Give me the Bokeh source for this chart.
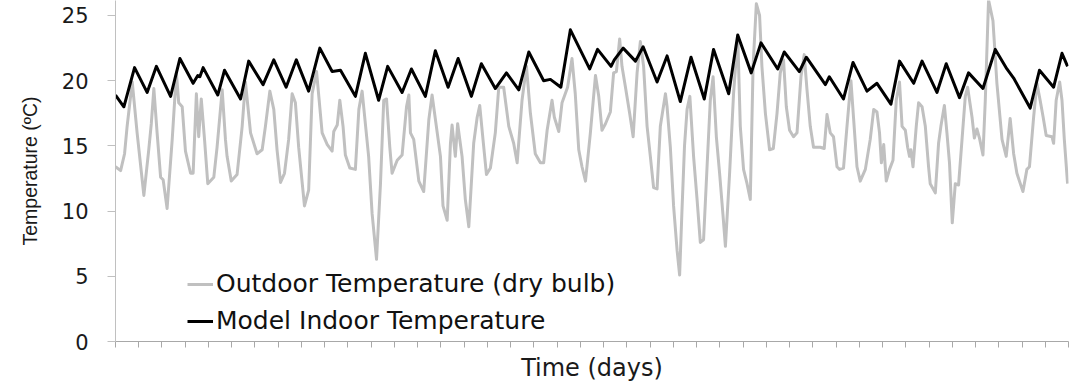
from bokeh.plotting import figure
from bokeh.models import Range1d, FixedTicker
from bokeh.embed import file_html
from bokeh.resources import INLINE

# ---- data ----
outdoor_day = [0.00, 0.22, 0.39, 0.50, 0.72, 0.93, 1.22, 1.43, 1.54, 1.65, 1.79, 1.94, 2.05, 2.22, 2.44, 2.62,
               2.72, 2.87, 3.01, 3.23, 3.34, 3.48, 3.58, 3.69, 3.83, 3.97, 4.23, 4.37, 4.59, 4.73, 4.80, 4.98,
               5.23, 5.45, 5.59, 5.81, 6.09, 6.31, 6.45, 6.64, 6.81, 6.95, 7.10, 7.27, 7.45, 7.60, 7.74, 7.88,
               8.13, 8.31, 8.46, 8.65, 8.89, 9.11, 9.32, 9.39, 9.54, 9.65, 9.79, 9.89, 10.08, 10.32, 10.47,
               10.61, 10.89, 11.04, 11.23, 11.40, 11.54, 11.66, 11.80, 11.90, 12.12, 12.33, 12.52, 12.62,
               12.69, 12.83, 13.05, 13.26, 13.48, 13.62, 13.98, 14.09, 14.27, 14.41, 14.48, 14.62, 14.72,
               14.91, 15.05, 15.20, 15.41, 15.56, 15.67, 15.81, 15.96, 16.13, 16.34, 16.49, 16.70, 16.92,
               17.13, 17.28, 17.49, 17.68, 17.85, 18.06, 18.28, 18.42, 18.57, 18.78, 18.88, 19.07, 19.21,
               19.45, 19.64, 19.78, 19.93, 20.07, 20.22, 20.43, 20.65, 20.79, 20.93, 21.08, 21.29, 21.43,
               21.55, 21.69, 21.79, 21.94, 22.12, 22.27, 22.44, 22.58, 22.72, 22.87, 23.01, 23.15, 23.30,
               23.44, 23.66, 23.73, 23.87, 24.01, 24.16, 24.27, 24.37, 24.48, 24.59, 24.71, 24.87, 25.02,
               25.16, 25.30, 25.45, 25.59, 25.71, 25.85, 25.99, 26.14, 26.24, 26.42, 26.59, 26.77, 26.88,
               27.02, 27.17, 27.31, 27.43, 27.57, 27.71, 27.81, 27.96, 28.14, 28.30, 28.46, 28.60, 28.74,
               28.86, 29.00, 29.17, 29.32, 29.49, 29.63, 29.75, 29.89, 30.03, 30.32, 30.49, 30.61, 30.75,
               30.89, 31.04, 31.15, 31.32, 31.47, 31.64, 31.75, 31.90, 32.04, 32.26, 32.47, 32.62, 32.76,
               32.87, 32.95, 33.05, 33.16, 33.30, 33.45, 33.59, 33.73, 33.84, 33.98, 34.08, 34.16, 34.22,
               34.31, 34.45, 34.55, 34.70, 34.84, 34.98, 35.05, 35.27, 35.41, 35.51, 35.66, 35.77, 35.88,
               36.00, 36.13, 36.27, 36.42, 36.56, 36.66, 36.85, 36.95, 37.06, 37.17, 37.32, 37.42, 37.56,
               37.75, 37.92, 38.14, 38.32, 38.49, 38.64, 38.78, 38.89, 39.04, 39.21, 39.32, 39.50, 39.64,
               39.78, 39.91, 40.04, 40.29, 40.36, 40.47, 40.62, 40.72, 40.82, 40.96]
outdoor_temp = [13.4, 13.1, 14.4, 16.5, 19.9, 16.0, 11.2, 14.7, 16.7, 19.4, 16.0, 12.6, 12.4, 10.2, 15.5, 20.6,
                18.3, 18.0, 14.6, 12.9, 12.9, 19.0, 15.7, 18.6, 15.5, 12.1, 12.6, 14.9, 19.3, 15.5, 14.2, 12.3,
                12.8, 16.5, 19.9, 16.0, 14.4, 14.7, 16.5, 19.2, 17.8, 14.7, 12.2, 12.9, 15.5, 19.0, 18.3, 14.9,
                10.4, 11.6, 19.0, 20.7, 16.0, 15.1, 14.6, 16.1, 16.6, 18.5, 16.5, 14.3, 13.3, 13.2, 17.8,
                19.2, 14.2, 9.8, 6.3, 12.1, 18.5, 18.6, 14.9, 12.9, 13.9, 14.3, 18.0, 18.9,
                16.0, 15.5, 12.3, 11.5, 17.0, 18.9, 14.2, 10.4, 9.3, 15.2, 16.6, 14.2, 16.7,
                14.2, 10.9, 8.8, 15.2, 17.2, 18.1, 15.5, 12.8, 13.3, 16.0, 19.5, 19.5, 16.5,
                15.2, 13.7, 18.5, 21.1, 17.5, 14.4, 13.7, 13.7, 16.2, 18.5, 17.2, 16.1, 18.3,
                19.5, 21.7, 19.0, 14.7, 13.4, 12.3, 16.0, 20.4, 18.8, 16.2, 16.7, 17.6, 20.6,
                20.7, 23.2, 21.1, 19.5, 17.5, 15.7, 20.6, 23.0, 21.1, 16.5, 14.2, 11.8, 11.7,
                16.5, 19.0, 18.0, 14.9, 10.4, 7.0, 5.1, 10.0, 15.0, 17.8, 18.8, 14.2, 10.9,
                7.6, 7.8, 13.4, 18.5, 20.3, 15.7, 12.9, 9.6, 7.3, 12.9, 19.0, 23.4, 16.5,
                13.2, 12.1, 10.9, 21.1, 25.9, 25.0, 21.1, 17.5, 14.7, 14.8, 17.5, 20.6, 21.6,
                18.0, 16.2, 15.7, 16.0, 20.3, 22.0, 19.3, 16.5, 14.9, 14.9, 14.8, 17.4, 16.0,
                15.7, 13.4, 13.2, 13.3, 16.5, 20.0, 17.2, 13.4, 12.3, 13.2, 15.5, 17.8, 17.6,
                16.0, 13.7, 15.1, 12.3, 13.2, 13.9, 18.5, 19.9, 16.5, 16.2, 14.9, 14.2, 14.7,
                13.4, 16.5, 18.3, 18.0, 16.5, 13.4, 12.1, 11.4, 15.2, 16.5, 18.1, 16.0, 13.7,
                9.1, 12.1, 12.0, 15.5, 18.8, 19.5, 17.2, 15.6, 16.3, 15.6, 14.3, 18.5, 26.2,
                24.6, 19.8, 15.5, 14.2, 17.1, 14.4, 12.9, 12.3, 11.5, 13.2, 13.4, 17.2, 19.8,
                18.5, 17.2, 15.8, 15.7, 15.2, 18.5, 19.9, 18.5, 15.5, 12.1]

indoor_day = [0.00, 0.36, 0.82, 1.36, 1.76, 2.37, 2.77, 3.34, 3.54, 3.63, 3.77, 4.40, 4.69, 5.38, 5.73, 6.35,
              6.81, 7.34, 7.78, 8.31, 8.79, 9.32, 9.68, 10.32, 10.75, 11.32, 11.71, 12.33, 12.73, 13.33,
              13.76, 14.31, 14.74, 15.31, 15.74, 16.34, 16.82, 17.35, 17.78, 18.42, 18.71, 19.16, 19.57,
              20.40, 20.74, 21.32, 21.46, 21.84, 22.37, 22.70, 23.30, 23.73, 24.30, 24.76, 25.33, 25.73,
              26.38, 26.77, 27.35, 27.77, 28.49, 28.77, 29.42, 29.72, 30.54, 30.71, 31.32, 31.73, 32.33,
              32.76, 33.36, 33.73, 34.34, 34.70, 35.34, 35.74, 36.31, 36.70, 37.32, 37.85, 38.35, 38.64,
              39.35, 39.75, 40.36, 40.72, 40.96]
indoor_temp = [18.9, 18.0, 21.0, 19.1, 21.1, 18.8, 21.7, 19.8, 20.4, 20.3, 21.0, 18.9, 20.8, 18.6, 21.5, 19.7,
               21.6, 19.5, 21.6, 19.2, 22.5, 20.7, 20.8, 18.8, 22.1, 18.5, 21.1, 19.1, 20.9, 18.8,
               22.3, 19.5, 21.7, 18.8, 21.3, 19.4, 20.6, 19.3, 22.2, 20.0, 20.1, 19.5, 23.9,
               20.9, 22.4, 21.1, 21.6, 22.5, 21.5, 22.6, 19.9, 21.9, 18.4, 21.8, 18.6, 22.4,
               19.0, 23.5, 20.6, 22.9, 20.9, 22.2, 20.7, 21.8, 19.7, 20.3, 18.6, 21.4, 19.2,
               19.8, 18.2, 21.5, 19.8, 21.5, 19.1, 21.3, 18.7, 20.6, 19.4, 22.4, 20.9, 20.2,
               17.9, 20.8, 19.5, 22.1, 21.1]

y_ticks = [0, 5, 10, 15, 20, 25]
day_ticks = list(range(0, 42))

p = figure(width=1082, height=384, output_backend="svg", toolbar_location=None,
           x_range=Range1d(0, 41), y_range=Range1d(0, 26.15),
           min_border_left=115, min_border_right=14, min_border_top=0, min_border_bottom=42)
p.outline_line_color = None
p.xgrid.grid_line_color = None
p.ygrid.grid_line_color = None
p.background_fill_color = "white"
p.border_fill_color = "white"

p.line(outdoor_day, outdoor_temp, line_color="#c0c0c0", line_width=3, line_join="round",
       legend_label="Outdoor Temperature (dry bulb)")
p.line(indoor_day, indoor_temp, line_color="#000000", line_width=3, line_join="round",
       legend_label="Model Indoor Temperature")

# y axis
p.yaxis.ticker = FixedTicker(ticks=y_ticks)
p.yaxis.axis_line_color = "#c0c0c0"
p.yaxis.major_tick_line_color = "#c0c0c0"
p.yaxis.major_tick_out = 8
p.yaxis.major_tick_in = 0
p.yaxis.minor_tick_line_color = None
p.yaxis.major_label_text_font = "DejaVu Sans"
p.yaxis.major_label_text_font_size = "21px"
p.yaxis.major_label_text_color = "#1a1a1a"
p.yaxis.major_label_standoff = 19
p.yaxis.axis_label = "Temperature (ºC)"
p.yaxis.axis_label_text_font = "Liberation Sans"
p.yaxis.axis_label_text_font_size = "19.5px"
p.yaxis.axis_label_text_font_style = "normal"
p.yaxis.axis_label_text_color = "#1a1a1a"
p.yaxis.axis_label_standoff = 18

# x axis: one tick per day, no tick labels
p.xaxis.ticker = FixedTicker(ticks=day_ticks)
p.xaxis.axis_line_color = "#a8a8a8"
p.xaxis.major_tick_line_color = "#a8a8a8"
p.xaxis.major_tick_out = 6
p.xaxis.major_tick_in = 0
p.xaxis.minor_tick_line_color = None
p.xaxis.major_label_text_font_size = "1px"
p.xaxis.major_label_text_color = None
p.xaxis.major_label_standoff = 0
p.xaxis.axis_label = "Time (days)"
p.xaxis.axis_label_text_font = "DejaVu Sans"
p.xaxis.axis_label_text_font_size = "24px"
p.xaxis.axis_label_text_font_style = "normal"
p.xaxis.axis_label_text_color = "#1a1a1a"
p.xaxis.axis_label_standoff = 6

# legend
lg = p.legend[0]
lg.location = (72, 6)
lg.margin = 0
lg.padding = 0
lg.spacing = 8
lg.border_line_color = None
lg.background_fill_alpha = 0
lg.glyph_width = 26
lg.glyph_height = 24
lg.label_height = 24
lg.label_standoff = 3
lg.label_text_font = "DejaVu Sans"
lg.label_text_font_size = "25px"
lg.label_text_color = "#111111"

open("out.html", "w").write(file_html(p, INLINE))
